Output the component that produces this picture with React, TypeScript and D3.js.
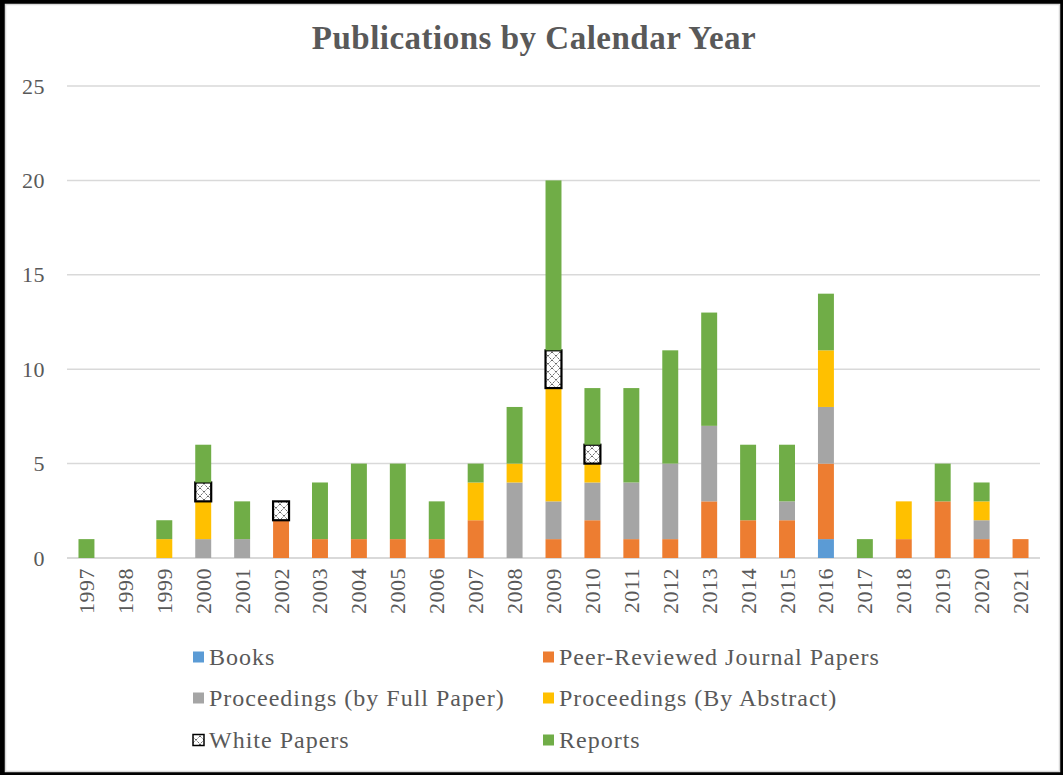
import React from "react";
import * as d3 from "d3";

const years = ["1997","1998","1999","2000","2001","2002","2003","2004","2005","2006","2007","2008","2009","2010","2011","2012","2013","2014","2015","2016","2017","2018","2019","2020","2021"];
const books =       [0,0,0,0,0,0,0,0,0,0,0,0,0,0,0,0,0,0,0,1,0,0,0,0,0];
const peerReviewed = [0,0,0,0,0,2,1,1,1,1,2,0,1,2,1,1,3,2,2,4,0,1,3,1,1];
const fullPaper =   [0,0,0,1,1,0,0,0,0,0,0,4,2,2,3,4,4,0,1,3,0,0,0,1,0];
const byAbstract =  [0,0,1,2,0,0,0,0,0,0,2,1,6,1,0,0,0,0,0,3,0,2,0,1,0];
const whitePapers = [0,0,0,1,0,1,0,0,0,0,0,0,2,1,0,0,0,0,0,0,0,0,0,0,0];
const reports =     [1,0,1,2,2,0,3,4,4,2,1,3,9,3,5,6,6,4,3,3,1,0,2,1,0];
const yTicks = [0,5,10,15,20,25];

const seriesNames = ["Books","Peer-Reviewed Journal Papers","Proceedings (by Full Paper)","Proceedings (By Abstract)","White Papers","Reports"];
const seriesData = [books, peerReviewed, fullPaper, byAbstract, whitePapers, reports];
const colors = ["#5B9BD5","#ED7D31","#A5A5A5","#FFC000","url(#wp)","#70AD47"];

const W = 1063, H = 775;
const plotL = 67, plotR = 1040, plotT = 86, plotB = 558;
const FONT = "'Liberation Serif', 'DejaVu Serif', serif";

export default function App() {
  const x = d3.scaleBand<string>().domain(years).range([plotL, plotR]).paddingInner(0.59).paddingOuter(0.295);
  const y = d3.scaleLinear().domain([0, 25]).range([plotB, plotT]);
  const table = years.map((yr, i) => {
    const o: any = { year: yr };
    seriesNames.forEach((s, k) => (o[s] = seriesData[k][i]));
    return o;
  });
  const stack = d3.stack<any>().keys(seriesNames)(table);
  const legendPos = [
    [193, 657], [543, 657],
    [193, 698], [543, 698],
    [193, 740], [543, 740],
  ];
  return (
    <svg width={W} height={H} style={{ position: "absolute", left: 0, top: 0 }} fontFamily={FONT}>
      <defs>
        <pattern id="wp" width="8" height="8" patternUnits="userSpaceOnUse">
          <rect width="8" height="8" fill="#fff" />
          <path d="M0,0 L8,8 M8,0 L0,8" stroke="#333" strokeWidth="0.9" strokeDasharray="1.2,1" />
        </pattern>
      </defs>
      <rect x={0} y={0} width={W} height={H} fill="#000" />
      <rect x={5.5} y={4.5} width={1054} height={767} fill="#fff" stroke="#d9d9d9" strokeWidth={1.5} />
      <text x={534} y={49} textAnchor="middle" fontSize={33} letterSpacing={0.5} fontWeight="bold" fill="#595959">Publications by Calendar Year</text>
      {yTicks.map((t) => (
        <g key={t}>
          <line x1={plotL} x2={plotR} y1={y(t)} y2={y(t)} stroke="#d9d9d9" strokeWidth={t === 0 ? 2 : 1.5} />
          <text x={45} y={y(t)} textAnchor="end" dominantBaseline="central" fontSize={22} letterSpacing={0.5} fill="#595959">{t}</text>
        </g>
      ))}
      {stack.map((layer, k) => (
        <g key={seriesNames[k]}>
          {layer.map((d, i) => {
            const h = y(d[0]) - y(d[1]);
            if (h <= 0) return null;
            const isWP = k === 4;
            return (
              <rect
                key={i}
                x={x(years[i])!}
                y={y(d[1])}
                width={x.bandwidth()}
                height={h}
                fill={colors[k]}
                stroke={isWP ? "#000" : "none"}
                strokeWidth={isWP ? 2.2 : 0}
              />
            );
          })}
        </g>
      ))}
      {years.map((yr) => (
        <text
          key={yr}
          transform={`translate(${x(yr)! + x.bandwidth() / 2},${plotB + 10}) rotate(-90)`}
          textAnchor="end"
          dominantBaseline="central"
          fontSize={22}
          letterSpacing={0.5}
          fill="#595959"
        >{yr}</text>
      ))}
      {seriesNames.map((s, k) => {
        const [lx, ly] = legendPos[k];
        const isWP = k === 4;
        return (
          <g key={s}>
            <rect x={lx} y={ly - 5.5} width={11} height={11} fill={colors[k]} stroke={isWP ? "#000" : "none"} strokeWidth={isWP ? 1.5 : 0} />
            <text x={lx + 16} y={ly} dominantBaseline="central" fontSize={24} letterSpacing={1} fill="#595959">{s}</text>
          </g>
        );
      })}
    </svg>
  );
}
